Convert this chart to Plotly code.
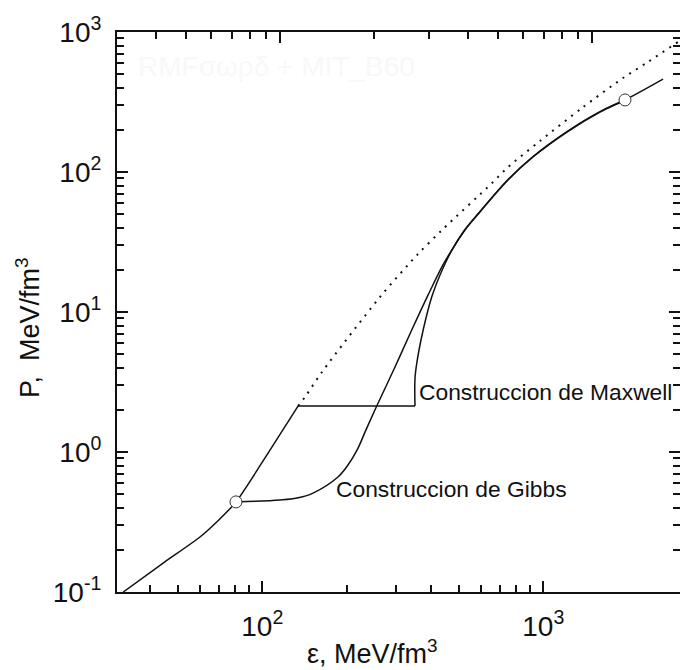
import math
import plotly.graph_objects as go

# ---------------- data ----------------
# hadronic branch (solid, lower left)
eps_hadron = [32.0, 45.0, 60.0, 70.0, 80.6, 106.5, 134.0]
p_hadron = [0.100, 0.164, 0.247, 0.327, 0.440, 1.03, 2.13]

# Maxwell plateau
p_maxwell = 2.13
eps_maxwell = [134.0, 349.5]

# quark branch after Maxwell plateau
eps_quark = [349.5, 349.5, 355.2, 367.1, 382.4, 401.8, 429.0, 473.2, 526.4, 595.2,
             748.9, 919.0, 1214.0, 1591.0, 1953.0, 2667.0]
p_quark = [2.13, 3.38, 4.40, 6.31, 9.06, 13.0, 18.4, 27.7, 38.5, 51.8,
           87.7, 128.0, 193.0, 268.0, 327.0, 461.0]

# Gibbs construction (mixed phase)
eps_gibbs = [80.6, 115.6, 132.9, 151.5, 185.9, 201.8, 217.3, 233.9, 255.4, 295.5,
             340.2, 388.8, 439.5, 473.2, 526.4, 595.2, 748.9, 919.0,
             1214.0, 1591.0, 1953.0]
p_gibbs = [0.440, 0.454, 0.469, 0.509, 0.663, 0.807, 1.03, 1.44, 2.13, 3.98,
           7.43, 13.2, 21.7, 27.9, 38.8, 52.2, 88.4, 129.0,
           194.5, 270.0, 327.0]

# dotted continuation of hadronic EoS
eps_dot = [134.0, 141.9, 163.1, 262.4, 355.2, 436.0, 656.9, 742.9, 972.8,
           1373.0, 1921.0, 2358.0, 3013.0]
p_dot = [2.13, 2.47, 3.73, 12.8, 25.5, 38.5, 83.4, 106.8, 166.5,
         286.5, 469.0, 611.0, 848.0]

# phase-boundary circles
eps_circles = [80.6, 1953.0]
p_circles = [0.44, 327.0]

# axis ticks
x_major = [100, 1000]
x_major_text = ["10<sup>2</sup>", "10<sup>3</sup>"]
x_minor = [40, 50, 60, 70, 80, 90, 200, 300, 400, 500, 600, 700, 800, 900]
y_major = [0.1, 1, 10, 100, 1000]
y_major_text = ["10<sup>-1</sup>", "10<sup>0</sup>", "10<sup>1</sup>",
                "10<sup>2</sup>", "10<sup>3</sup>"]
y_minor = [m * d for d in [0.1, 1, 10, 100] for m in range(2, 10)]

label_maxwell = "Construccion de Maxwell"
label_gibbs = "Construccion de Gibbs"
ghost_title = "RMFσωρδ + MIT_B60"

FONT = "Liberation Sans, Arial, sans-serif"
BLACK = "#111111"

fig = go.Figure()

line = dict(color=BLACK, width=1.5)
fig.add_trace(go.Scatter(x=eps_hadron, y=p_hadron, mode="lines",
                         line=dict(**line, shape="spline", smoothing=0.6),
                         showlegend=False, hoverinfo="skip"))
fig.add_trace(go.Scatter(x=eps_maxwell, y=[p_maxwell] * len(eps_maxwell), mode="lines",
                         line=line, showlegend=False, hoverinfo="skip"))
fig.add_trace(go.Scatter(x=eps_quark, y=p_quark, mode="lines",
                         line=dict(**line, shape="spline", smoothing=1.0),
                         showlegend=False, hoverinfo="skip"))
fig.add_trace(go.Scatter(x=eps_gibbs, y=p_gibbs, mode="lines",
                         line=dict(**line, shape="spline", smoothing=1.0),
                         showlegend=False, hoverinfo="skip"))
fig.add_trace(go.Scatter(x=eps_dot, y=p_dot, mode="lines",
                         line=dict(color=BLACK, width=2, dash="2px,6px",
                                   shape="spline", smoothing=0.8),
                         showlegend=False, hoverinfo="skip"))
fig.add_trace(go.Scatter(x=eps_circles, y=p_circles, mode="markers",
                         marker=dict(size=12, color="white",
                                     line=dict(color="#333333", width=1)),
                         showlegend=False, hoverinfo="skip"))
# invisible traces to activate the top and right tick axes
fig.add_trace(go.Scatter(x=eps_circles, y=p_circles, xaxis="x2", yaxis="y",
                         mode="none", showlegend=False, hoverinfo="skip"))
fig.add_trace(go.Scatter(x=eps_circles, y=p_circles, xaxis="x", yaxis="y2",
                         mode="none", showlegend=False, hoverinfo="skip"))

tickfont = dict(family=FONT, size=28, color=BLACK)
minor_common = dict(ticks="inside", ticklen=7, tickwidth=1.5, tickcolor=BLACK, showgrid=False)

fig.update_layout(
    width=680, height=670,
    margin=dict(l=117, r=0, t=32, b=78),
    paper_bgcolor="white", plot_bgcolor="white",
    font=dict(family=FONT, color=BLACK),
    xaxis=dict(type="log", range=[1.4829, 3.4865], showline=True, linewidth=2,
               linecolor=BLACK, mirror=False, ticks="inside", ticklen=11, tickwidth=1.5,
               tickcolor=BLACK, tickmode="array", tickvals=x_major, ticktext=x_major_text,
               tickfont=tickfont, ticklabelstandoff=8, showgrid=False, zeroline=False,
               minor=dict(tickmode="array", tickvals=x_minor, **minor_common)),
    xaxis2=dict(type="log", overlaying="x", side="top", anchor="y",
                range=[1.478, 3.2808], showline=True, linewidth=2, linecolor=BLACK,
                ticks="inside", ticklen=11, tickwidth=1.5, tickcolor=BLACK,
                tickmode="array", tickvals=x_major, showticklabels=False,
                showgrid=False, zeroline=False,
                minor=dict(tickmode="array", tickvals=x_minor, **minor_common)),
    yaxis=dict(type="log", range=[-1, 3], showline=True, linewidth=2, linecolor=BLACK,
               mirror=False, ticks="inside", ticklen=11, tickwidth=1.5, tickcolor=BLACK,
               tickmode="array", tickvals=y_major, ticktext=y_major_text,
               tickfont=tickfont, ticklabelstandoff=8, showgrid=False, zeroline=False,
               minor=dict(tickmode="array", tickvals=y_minor, **minor_common)),
    yaxis2=dict(type="log", overlaying="y", side="right", anchor="x", range=[-1, 3],
                showline=False, ticks="inside", ticklen=11, tickwidth=1.5, tickcolor=BLACK,
                tickmode="array", tickvals=y_major, showticklabels=False,
                showgrid=False, zeroline=False,
                minor=dict(tickmode="array", tickvals=y_minor, **minor_common)),
)

annotations = [
    dict(text=label_maxwell, xref="x", yref="y", x=math.log10(356), y=math.log10(2.68),
         xanchor="left", yanchor="middle", showarrow=False,
         font=dict(family=FONT, size=22.8, color=BLACK)),
    dict(text=label_gibbs, xref="x", yref="y", x=math.log10(179.5), y=math.log10(0.544),
         xanchor="left", yanchor="middle", showarrow=False,
         font=dict(family=FONT, size=22.8, color=BLACK)),
    dict(text=ghost_title, xref="paper", yref="paper", x=(276 - 117) / 563, y=(592 - 66) / 560,
         xanchor="center", yanchor="middle", showarrow=False,
         font=dict(family=FONT, size=28, color="#f8f8f8")),
    dict(text="ε, MeV/fm<sup>3</sup>", xref="paper", yref="paper",
         x=(372 - 117) / 563, y=(592 - 652) / 560, xanchor="center", yanchor="middle",
         showarrow=False, font=dict(family=FONT, size=27, color=BLACK)),
    dict(text="P,  MeV/fm<sup>3</sup>", xref="paper", yref="paper", textangle=-90,
         x=(28 - 117) / 563, y=(592 - 328) / 560, xanchor="center", yanchor="middle",
         showarrow=False, font=dict(family=FONT, size=27, color=BLACK)),
]
fig.update_layout(annotations=annotations)

fig.write_html("out.html", config={"displayModeBar": False},
               post_script="document.body.style.margin='0px';document.body.style.overflow='hidden';")
